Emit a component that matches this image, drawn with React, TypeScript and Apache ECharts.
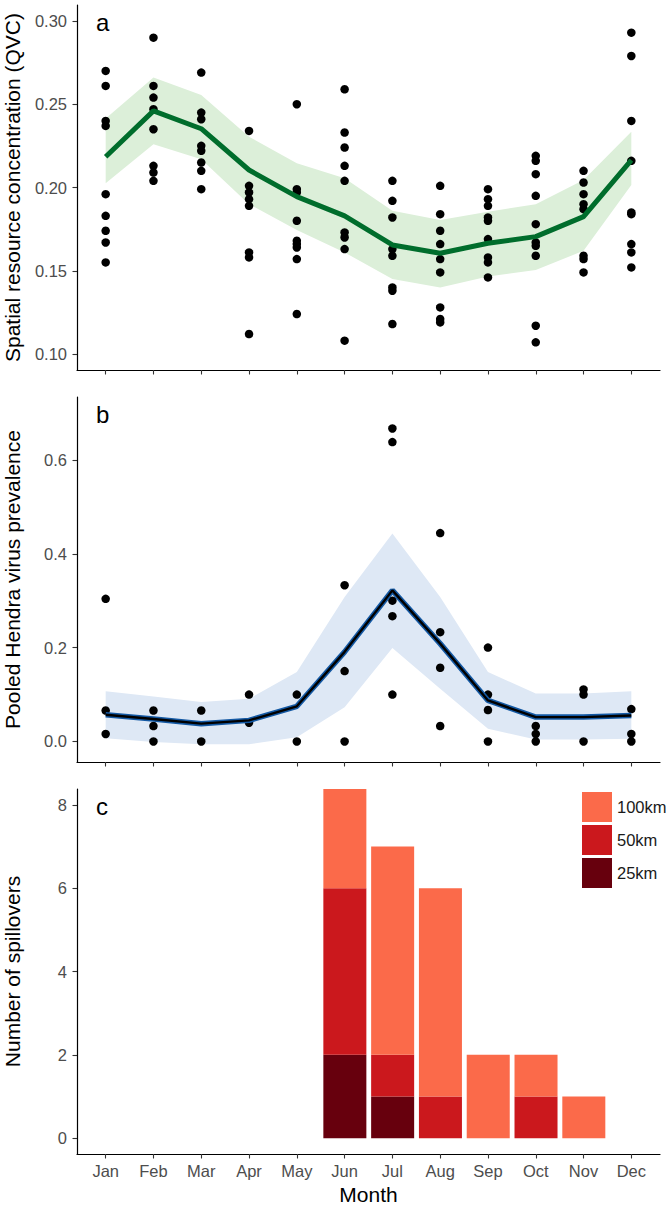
import React, { useEffect, useRef } from "react";
import * as echarts from "echarts";

const months = ["Jan", "Feb", "Mar", "Apr", "May", "Jun", "Jul", "Aug", "Sep", "Oct", "Nov", "Dec"];

// Panel a: spatial resource concentration (QVC)
const qvcPoints: number[][] = [
  [0.270, 0.261, 0.240, 0.237, 0.196, 0.183, 0.174, 0.167, 0.155],
  [0.290, 0.261, 0.254, 0.247, 0.235, 0.213, 0.209, 0.204],
  [0.269, 0.245, 0.241, 0.225, 0.222, 0.215, 0.210, 0.199],
  [0.234, 0.201, 0.197, 0.193, 0.189, 0.161, 0.158, 0.112],
  [0.250, 0.199, 0.197, 0.180, 0.168, 0.166, 0.164, 0.157, 0.124],
  [0.259, 0.233, 0.224, 0.213, 0.204, 0.173, 0.170, 0.163, 0.108],
  [0.204, 0.192, 0.182, 0.163, 0.159, 0.140, 0.138, 0.118],
  [0.201, 0.184, 0.174, 0.166, 0.157, 0.149, 0.128, 0.121, 0.119],
  [0.199, 0.193, 0.189, 0.182, 0.180, 0.169, 0.158, 0.155, 0.146],
  [0.219, 0.216, 0.208, 0.195, 0.178, 0.167, 0.165, 0.159, 0.117, 0.107],
  [0.210, 0.203, 0.196, 0.190, 0.187, 0.159, 0.157, 0.149],
  [0.293, 0.279, 0.240, 0.216, 0.185, 0.184, 0.166, 0.161, 0.152],
];
const qvcFit = [0.2185, 0.246, 0.2353, 0.2105, 0.1945, 0.183, 0.1655, 0.1605, 0.1665, 0.1705, 0.1825, 0.2165];
const qvcUpper = [0.2415, 0.266, 0.2556, 0.2305, 0.2145, 0.2055, 0.186, 0.1805, 0.1855, 0.19, 0.2045, 0.2335];
const qvcLower = [0.2025, 0.226, 0.217, 0.19, 0.1745, 0.161, 0.145, 0.14, 0.1465, 0.1505, 0.162, 0.2015];
const qvcTicks = [0.1, 0.15, 0.2, 0.25, 0.3];

// Panel b: pooled Hendra virus prevalence
const hevPoints: number[][] = [
  [0.304, 0.066, 0.016],
  [0.066, 0.033, 0],
  [0.066, 0],
  [0.1, 0.04],
  [0.1, 0],
  [0.333, 0.15, 0],
  [0.667, 0.638, 0.3, 0.267, 0.1],
  [0.444, 0.233, 0.157, 0.033],
  [0.2, 0.1, 0.067, 0],
  [0.033, 0.016, 0],
  [0.111, 0.1, 0],
  [0.069, 0.016, 0],
];
const hevFit = [0.057, 0.048, 0.038, 0.045, 0.075, 0.191, 0.322, 0.2085, 0.0875, 0.052, 0.052, 0.0555];
const hevUpper = [0.107, 0.096, 0.084, 0.091, 0.148, 0.308, 0.443, 0.308, 0.148, 0.102, 0.102, 0.107];
const hevLower = [0.007, -0.001, -0.006, -0.006, 0.009, 0.073, 0.199, 0.1125, 0.027, 0.004, 0.004, 0.006];
const hevTicks = [0, 0.2, 0.4, 0.6];

// Panel c: number of spillovers
const spill25 = [0, 0, 0, 0, 0, 2, 1, 0, 0, 0, 0, 0];
const spill50 = [0, 0, 0, 0, 0, 4, 1, 1, 0, 1, 0, 0];
const spill100 = [0, 0, 0, 0, 0, 2.4, 5, 5, 2, 1, 1, 0];
const spillTicks = [0, 2, 4, 6, 8];

const FONT = "'Liberation Sans', Arial, Helvetica, sans-serif";
const monthIdx = months.map((_, i) => i + 1);
const TICK_SIZE = 16.5;
const TITLE_SIZE = 21;

function ribbon(upper: number[], lower: number[], color: string, axisIndex: number) {
  return {
    type: "custom",
    xAxisIndex: axisIndex,
    yAxisIndex: axisIndex,
    z: 1,
    silent: true,
    data: monthIdx.map((x, i) => [x, lower[i], upper[i]]),
    encode: { x: 0, y: [1, 2] },
    renderItem: (params: any, api: any) => {
      if (params.dataIndex !== 0) return null;
      const top = upper.map((u, i) => api.coord([i + 1, u]));
      const bot = lower.map((l, i) => api.coord([i + 1, l])).reverse();
      return {
        type: "polygon",
        shape: { points: [...top, ...bot] },
        style: { fill: color },
      };
    },
  };
}

function xAxis(gridIndex: number, showLabels: boolean) {
  return {
    type: "value",
    gridIndex,
    min: 0.4,
    max: 12.6,
    splitLine: { show: false },
    axisLine: { show: true, onZero: false, lineStyle: { color: "#000", width: 1.2 } },
    axisTick: { show: true, length: 4.5, customValues: monthIdx, lineStyle: { color: "#333", width: 1.1 } },
    axisLabel: {
      show: showLabels,
      customValues: monthIdx,
      formatter: (v: number) => months[Math.round(v) - 1] ?? "",
      color: "#4d4d4d",
      fontSize: TICK_SIZE,
      fontFamily: FONT,
      margin: 8,
    },
    name: showLabels ? "Month" : "",
    nameLocation: "middle",
    nameGap: 30,
    nameTextStyle: { color: "#000", fontSize: TITLE_SIZE, fontFamily: FONT },
  };
}

function yAxis(gridIndex: number, min: number, max: number, ticks: number[], digits: number, name: string) {
  return {
    type: "value",
    gridIndex,
    min,
    max,
    splitLine: { show: false },
    axisLine: { show: true, onZero: false, lineStyle: { color: "#000", width: 1.2 } },
    axisTick: { show: true, length: 4.5, customValues: ticks, lineStyle: { color: "#333", width: 1.1 } },
    axisLabel: {
      customValues: ticks,
      formatter: (v: number) => v.toFixed(digits),
      color: "#4d4d4d",
      fontSize: TICK_SIZE,
      fontFamily: FONT,
      margin: 10,
    },
    name,
    nameLocation: "middle",
    nameGap: 54,
    nameRotate: 90,
    nameTextStyle: { color: "#000", fontSize: TITLE_SIZE, fontFamily: FONT },
  };
}

export default function App() {
  const ref = useRef<HTMLDivElement>(null);

  useEffect(() => {
    if (!ref.current) return;
    const chart = echarts.init(ref.current, undefined, { renderer: "svg" });
    const gridTops = [5, 397, 789];
    const cMin = -0.38;
    const cMax = 8.383;
    const option: any = {
      animation: false,
      backgroundColor: "#fff",
      grid: [
        ...gridTops.map((t) => ({
          left: 77,
          width: 583,
          top: t,
          height: 365,
          containLabel: false,
          outerBoundsMode: "none",
        })),
        // grid for the stacked bars: category bands aligned with the month ticks
        { left: 82, width: 573.5, top: 789, height: 365, containLabel: false, outerBoundsMode: "none" },
      ],
      xAxis: [
        xAxis(0, false),
        xAxis(1, false),
        xAxis(2, true),
        { type: "category", gridIndex: 3, data: months, show: false, boundaryGap: true },
      ],
      yAxis: [
        yAxis(0, 0.0904, 0.3096, qvcTicks, 2, "Spatial resource concentration (QVC)"),
        yAxis(1, -0.0437, 0.734, hevTicks, 1, "Pooled Hendra virus prevalence"),
        yAxis(2, cMin, cMax, spillTicks, 0, "Number of spillovers"),
        { type: "value", gridIndex: 3, min: cMin, max: cMax, show: false, splitLine: { show: false } },
      ],
      legend: {
        data: ["100km", "50km", "25km"],
        orient: "vertical",
        left: 577,
        top: 787,
        itemWidth: 30,
        itemHeight: 30,
        itemGap: 3,
        icon: "rect",
        selectedMode: false,
        textStyle: { fontSize: 16.5, color: "#1a1a1a", fontFamily: FONT },
      },
      graphic: [
        { type: "text", left: 96, top: 22 - 12, style: { text: "a", fontSize: 24, fill: "#000", fontFamily: FONT } },
        { type: "text", left: 96, top: 414 - 12, style: { text: "b", fontSize: 24, fill: "#000", fontFamily: FONT } },
        { type: "text", left: 96, top: 806 - 12, style: { text: "c", fontSize: 24, fill: "#000", fontFamily: FONT } },
      ],
      series: [
        ribbon(qvcUpper, qvcLower, "#dcefd9", 0),
        {
          type: "scatter",
          xAxisIndex: 0,
          yAxisIndex: 0,
          z: 2,
          symbolSize: 8.5,
          itemStyle: { color: "#000", opacity: 1 },
          data: qvcPoints.flatMap((vals, i) => vals.map((v) => [i + 1, v])),
        },
        {
          type: "line",
          xAxisIndex: 0,
          yAxisIndex: 0,
          z: 3,
          symbol: "none",
          lineStyle: { color: "#006d2c", width: 5 },
          data: qvcFit.map((v, i) => [i + 1, v]),
        },
        ribbon(hevUpper, hevLower, "#dee8f5", 1),
        {
          type: "scatter",
          xAxisIndex: 1,
          yAxisIndex: 1,
          z: 2,
          symbolSize: 8.5,
          itemStyle: { color: "#000", opacity: 1 },
          data: hevPoints.flatMap((vals, i) => vals.map((v) => [i + 1, v])),
        },
        {
          type: "line",
          xAxisIndex: 1,
          yAxisIndex: 1,
          z: 3,
          symbol: "none",
          lineStyle: { color: "#1358a3", width: 5.5 },
          data: hevFit.map((v, i) => [i + 1, v]),
        },
        {
          type: "line",
          xAxisIndex: 1,
          yAxisIndex: 1,
          z: 4,
          symbol: "none",
          lineStyle: { color: "#000", width: 2.4 },
          data: hevFit.map((v, i) => [i + 1, v]),
        },
        {
          name: "25km",
          type: "bar",
          xAxisIndex: 3,
          yAxisIndex: 3,
          stack: "spill",
          barWidth: "90%",
          itemStyle: { color: "#67000d" },
          data: spill25,
        },
        {
          name: "50km",
          type: "bar",
          xAxisIndex: 3,
          yAxisIndex: 3,
          stack: "spill",
          barWidth: "90%",
          itemStyle: { color: "#cb181d" },
          data: spill50,
        },
        {
          name: "100km",
          type: "bar",
          xAxisIndex: 3,
          yAxisIndex: 3,
          stack: "spill",
          barWidth: "90%",
          itemStyle: { color: "#fb6a4a" },
          data: spill100,
        },
      ],
    };
    chart.setOption(option);
    return () => chart.dispose();
  }, []);

  return (
    <div
      ref={ref}
      style={{ position: "absolute", left: 0, top: 0, width: 666, height: 1205, background: "#fff" }}
    />
  );
}
